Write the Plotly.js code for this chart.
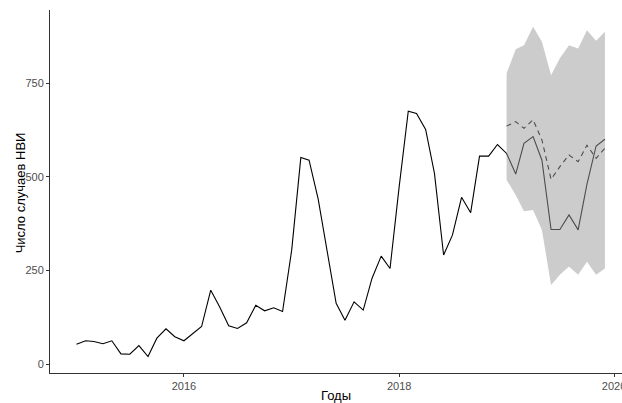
<!DOCTYPE html>
<html>
<head>
<meta charset="utf-8">
<script src="https://cdn.plot.ly/plotly-3.0.1.min.js"></script>
<style>html,body{margin:0;padding:0;background:#fff;}#chart{width:622px;height:403px;}</style>
</head>
<body>
<div id="chart"></div>
<script>
// Monthly observed cases, Jan 2015 – Dec 2019
const startYear = 2015;
const actual = [
  53, 62, 60, 54, 62, 27, 26, 49, 20, 69, 94, 73,
  62, 82, 100, 197, 153, 102, 95, 110, 157, 142, 150, 140,
  304, 551, 544, 440, 300, 162, 117, 166, 144, 229, 288, 255,
  473, 675, 669, 626, 509, 291, 344, 445, 404, 555, 555, 586,
  562, 507, 589, 607, 544, 359, 359, 398, 358, 480, 582, 600
];
// Forecast for 2019 (Jan – Dec)
const forecastStart = 48;
const forecast = [635, 647, 629, 652, 598, 493, 527, 558, 540, 584, 549, 576];
const upper    = [776, 840, 851, 900, 860, 771, 816, 851, 842, 891, 863, 887];
const lower    = [491, 451, 408, 411, 358, 211, 238, 260, 238, 273, 238, 255];
const yTicks = [0, 250, 500, 750];
const xTickVals = ['2016-01-01', '2018-01-01', '2020-01-01'];
const xTickText = ['2016', '2018', '2020'];
const xTitle = 'Годы';
const yTitle = 'Число случаев НВИ';

function monthDate(i) {
  const y = startYear + Math.floor(i / 12);
  const m = (i % 12) + 1;
  return y + '-' + (m < 10 ? '0' + m : m) + '-01';
}
const dates = actual.map((_, i) => monthDate(i));
const fDates = forecast.map((_, i) => monthDate(forecastStart + i));

const traces = [
  {x: dates, y: actual, type: 'scatter', mode: 'lines',
   line: {color: '#000000', width: 1.1}, hoverinfo: 'skip', showlegend: false},
  {x: fDates, y: forecast, type: 'scatter', mode: 'lines',
   line: {color: '#000000', width: 1.1, dash: '5px,4px'}, hoverinfo: 'skip', showlegend: false},
  {x: fDates, y: lower, type: 'scatter', mode: 'lines',
   line: {width: 0, color: 'rgba(0,0,0,0)'}, hoverinfo: 'skip', showlegend: false},
  {x: fDates, y: upper, type: 'scatter', mode: 'lines', fill: 'tonexty',
   fillcolor: 'rgba(153,153,153,0.5)',
   line: {width: 0, color: 'rgba(0,0,0,0)'}, hoverinfo: 'skip', showlegend: false}
];

const tickFont = {family: 'Liberation Sans, Arial, sans-serif', size: 11, color: '#4D4D4D'};
const titleFont = {family: 'Liberation Sans, Arial, sans-serif', size: 13, color: '#000000'};

const layout = {
  width: 622, height: 403,
  margin: {l: 50, r: 0, t: 10, b: 30},
  paper_bgcolor: '#ffffff', plot_bgcolor: '#ffffff',
  showlegend: false,
  xaxis: {
    type: 'date',
    range: ['2014-10-03', '2020-01-28'],
    tickmode: 'array', tickvals: xTickVals, ticktext: xTickText,
    ticklabeloverflow: 'allow',
    showgrid: false, zeroline: false,
    showline: true, linecolor: '#333333', linewidth: 1,
    ticks: 'outside', ticklen: 3, tickcolor: '#333333', tickwidth: 1,
    tickfont: tickFont,
    title: {text: xTitle, font: titleFont, standoff: 4}
  },
  yaxis: {
    range: [-24, 945],
    tickmode: 'array', tickvals: yTicks, ticktext: yTicks.map(String),
    showgrid: false, zeroline: false,
    showline: true, linecolor: '#333333', linewidth: 1,
    ticks: 'outside', ticklen: 3, tickcolor: '#333333', tickwidth: 1,
    tickfont: tickFont
  },
  annotations: [{
    text: yTitle, xref: 'paper', yref: 'paper',
    x: -30 / 572, y: 0.495, xanchor: 'center', yanchor: 'middle',
    textangle: -90, showarrow: false, font: titleFont
  }]
};

Plotly.newPlot('chart', traces, layout, {staticPlot: true, displayModeBar: false});
</script>
</body>
</html>
